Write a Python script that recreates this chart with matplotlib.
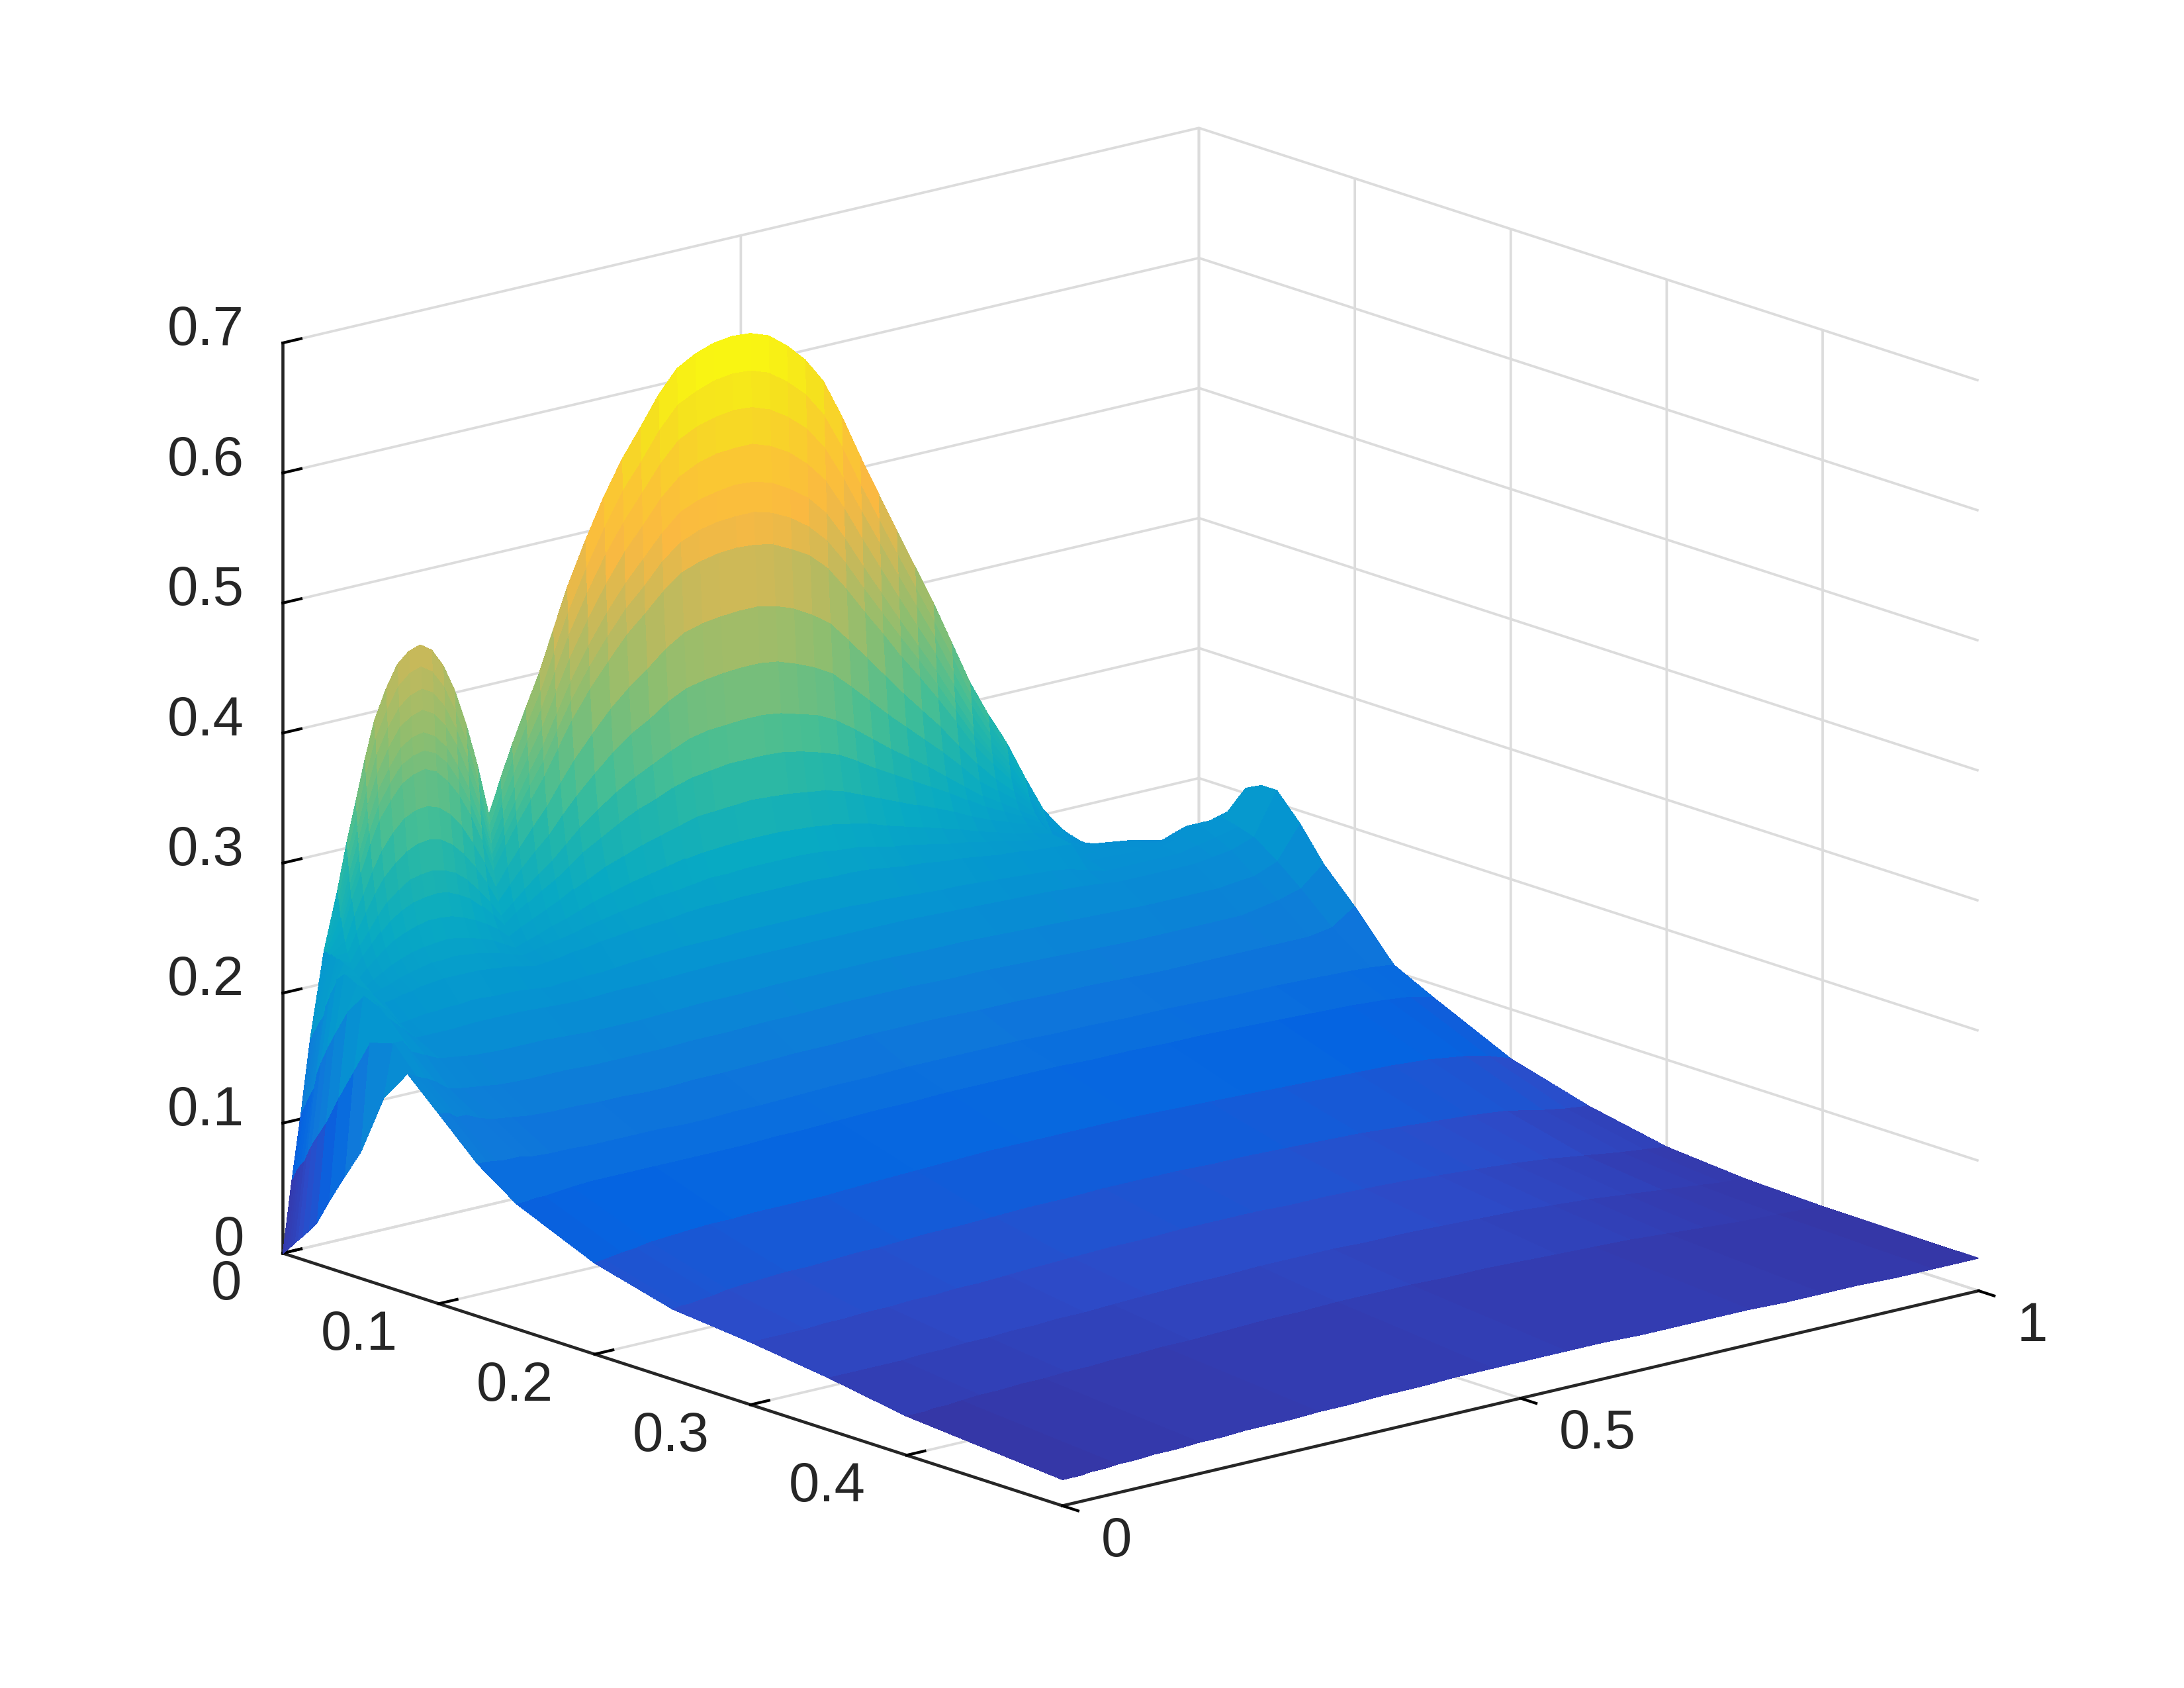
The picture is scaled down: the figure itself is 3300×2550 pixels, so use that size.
import matplotlib
matplotlib.use("Agg")
import matplotlib.pyplot as plt
import numpy as np
from matplotlib.colors import LinearSegmentedColormap
from mpl_toolkits.mplot3d import proj3d

plt.rcParams["font.family"] = ["Liberation Sans", "DejaVu Sans"]

# steep part of the surface next to x = 0, read finely along y
x_wall = [0, .0005, .001, .0015, .002, .0025, .003, .0045, .006, .008, .01, .013, .017, .022, .03, .04, .05]
y_wall = [0, .01, .02, .03, .045, .06, .07, .08, .09, .10, .1125, .125, .1375, .15, .1625, .175, .1875, .20, .2125, .225,
          .2375, .25, .265, .28, .295, .31, .33, .35, .37, .39, .41, .43, .45, .47, .49, .51, .53, .55, .57, .59,
          .61, .63, .65, .67, .69, .71, .73, .75, .77, .79, .81, .83, .85, .87, .89, .91, .93, .95, .975, 1]

w_x0000 = [0, .055, .105, .16, .225, .27, .305, .335, .366, .393, .415, .432, .44, .443, .437, .423, .402, .374, .34, .30, .325, .349, .375, .40, .43, .46, .493, .523, .549, .57, .592, .609, .617, .622, .624, .623, .618, .607, .593, .573, .543, .509, .477, .445, .414, .383, .349, .315, .287, .262, .232, .204, .186, .172, .163, .157, .14, .12, .08, 0]
w_x0005 = [0, .056, .106, .161, .225, .265, .298, .326, .355, .38, .40, .416, .424, .427, .421, .408, .388, .362, .33, .293, .316, .339, .363, .386, .414, .442, .473, .501, .526, .545, .566, .582, .589, .594, .596, .595, .59, .58, .567, .548, .52, .488, .458, .428, .399, .37, .339, .307, .281, .257, .229, .202, .185, .172, .164, .158, .142, .122, .085, .005]
w_x0010 = [.001, .058, .108, .163, .225, .26, .29, .316, .343, .367, .386, .40, .407, .41, .405, .393, .374, .35, .321, .286, .308, .328, .351, .373, .399, .425, .454, .48, .502, .521, .54, .555, .562, .566, .568, .567, .562, .553, .541, .523, .497, .468, .44, .412, .385, .358, .328, .299, .274, .253, .227, .20, .185, .173, .165, .16, .145, .125, .09, .01]
w_x0015 = [.002, .06, .109, .165, .225, .254, .283, .307, .332, .353, .371, .385, .391, .394, .389, .378, .361, .338, .311, .279, .299, .318, .339, .359, .383, .407, .434, .458, .479, .496, .514, .527, .534, .538, .539, .539, .534, .526, .514, .498, .474, .447, .421, .395, .37, .345, .318, .291, .268, .248, .224, .198, .184, .173, .165, .16, .148, .128, .095, .015]
w_x0020 = [.003, .061, .111, .166, .225, .249, .275, .297, .32, .34, .356, .369, .375, .377, .372, .362, .346, .326, .301, .271, .29, .307, .327, .345, .367, .389, .414, .436, .455, .471, .487, .50, .506, .509, .511, .51, .506, .498, .488, .473, .451, .426, .402, .378, .355, .332, .307, .282, .261, .243, .221, .196, .183, .173, .166, .162, .149, .13, .10, .02]
w_x0025 = [.003, .063, .112, .167, .225, .245, .269, .289, .311, .329, .344, .356, .361, .363, .359, .35, .335, .316, .293, .266, .283, .299, .317, .334, .355, .375, .398, .418, .436, .45, .466, .477, .483, .486, .487, .487, .483, .476, .466, .452, .432, .409, .387, .365, .344, .322, .299, .276, .257, .239, .219, .195, .183, .173, .166, .163, .151, .132, .105, .025]
w_x0030 = [.004, .064, .114, .168, .224, .24, .262, .281, .301, .318, .331, .342, .347, .349, .345, .336, .323, .306, .284, .259, .275, .29, .306, .322, .341, .36, .381, .399, .416, .429, .443, .454, .459, .462, .463, .462, .459, .452, .444, .431, .412, .391, .371, .35, .331, .311, .29, .268, .251, .235, .216, .194, .182, .173, .168, .164, .153, .135, .11, .03]
w_x0045 = [.006, .067, .118, .172, .224, .231, .25, .265, .281, .295, .307, .316, .32, .321, .318, .311, .30, .285, .268, .247, .26, .272, .286, .299, .315, .33, .347, .363, .376, .387, .399, .408, .412, .414, .415, .415, .412, .407, .399, .389, .373, .356, .339, .322, .306, .29, .272, .255, .24, .227, .212, .19, .181, .173, .169, .166, .157, .14, .12, .045]
w_x0060 = [.008, .07, .122, .176, .223, .223, .238, .251, .264, .275, .284, .291, .295, .296, .294, .288, .279, .267, .253, .236, .247, .257, .268, .278, .291, .303, .317, .33, .341, .349, .359, .366, .369, .371, .372, .372, .37, .365, .359, .351, .338, .324, .31, .297, .284, .271, .257, .242, .231, .22, .207, .186, .178, .172, .168, .166, .159, .145, .13, .06]
w_x0080 = [.011, .073, .127, .18, .222, .216, .228, .238, .248, .257, .264, .27, .272, .273, .271, .267, .26, .25, .239, .226, .234, .242, .251, .259, .269, .279, .29, .30, .308, .315, .322, .328, .331, .332, .333, .333, .331, .327, .323, .316, .306, .295, .284, .274, .264, .253, .242, .231, .222, .213, .204, .184, .178, .174, .171, .169, .163, .15, .14, .08]
w_x0100 = [.014, .08, .14, .19, .222, .211, .22, .228, .236, .243, .249, .253, .255, .256, .255, .251, .246, .238, .229, .219, .226, .232, .239, .245, .253, .261, .269, .277, .284, .289, .295, .299, .301, .303, .303, .303, .302, .299, .295, .29, .282, .273, .265, .257, .249, .241, .232, .223, .216, .209, .201, .183, .178, .175, .173, .171, .166, .155, .15, .10]
w_x0130 = [.018, .088, .15, .20, .22, .205, .212, .218, .224, .229, .233, .236, .238, .238, .237, .234, .23, .225, .219, .211, .216, .22, .225, .23, .236, .241, .248, .253, .258, .262, .266, .27, .271, .272, .273, .272, .271, .269, .267, .263, .257, .251, .245, .239, .233, .227, .22, .214, .209, .204, .198, .181, .177, .175, .173, .172, .169, .165, .165, .13]
w_x0170 = [.024, .097, .162, .212, .218, .20, .205, .209, .213, .216, .219, .221, .222, .223, .222, .22, .217, .214, .209, .204, .207, .21, .214, .217, .221, .225, .229, .233, .236, .239, .242, .244, .245, .246, .246, .246, .245, .244, .242, .239, .236, .231, .227, .223, .219, .215, .21, .206, .202, .199, .195, .179, .176, .174, .173, .172, .17, .175, .175, .165]
w_x0220 = [.032, .108, .175, .218, .213, .197, .20, .202, .205, .207, .209, .211, .211, .212, .211, .21, .208, .206, .203, .20, .202, .204, .206, .208, .211, .213, .216, .218, .221, .222, .224, .226, .226, .227, .227, .227, .227, .226, .224, .223, .22, .217, .215, .212, .209, .207, .204, .201, .198, .196, .194, .177, .176, .175, .174, .173, .172, .18, .18, .185]
w_x0300 = [.052, .13, .195, .213, .205, .194, .195, .197, .198, .20, .201, .202, .202, .202, .202, .201, .20, .199, .197, .195, .196, .197, .199, .20, .202, .203, .205, .206, .207, .209, .21, .21, .211, .211, .211, .211, .211, .21, .21, .209, .207, .205, .204, .202, .201, .199, .197, .196, .194, .193, .192, .176, .176, .175, .175, .174, .178, .184, .185, .204]
w_x0400 = [.075, .155, .21, .205, .195, .182, .183, .184, .185, .185, .186, .186, .187, .187, .186, .186, .186, .185, .184, .183, .184, .184, .185, .185, .186, .187, .188, .189, .19, .19, .19, .191, .191, .191, .191, .191, .191, .191, .19, .19, .189, .188, .187, .187, .186, .185, .184, .183, .182, .18, .176, .172, .172, .172, .172, .172, .175, .178, .182, .21]
w_x0500 = [.097, .18, .205, .195, .185, .175, .175, .175, .175, .175, .176, .176, .176, .176, .176, .176, .175, .175, .175, .174, .174, .174, .175, .175, .175, .175, .176, .176, .176, .177, .177, .177, .177, .177, .177, .177, .177, .177, .177, .177, .176, .176, .176, .175, .175, .174, .173, .173, .172, .171, .17, .168, .168, .168, .168, .168, .17, .172, .178, .21]

# flatter part towards x = 0.5
x_tail = [.05, .065, .08, .1, .125, .15, .2, .25, .3, .35, .4, .5]
y_tail = [0, .01, .02, .03, .045, .06, .08, .10, .125, .15, .175, .20, .225, .25, .28, .31, .35,
          .39, .43, .47, .51, .55, .59, .63, .67, .71, .75, .79, .83, .87, .91, .95, .975, 1]

z_x0500 = [.097, .18, .205, .195, .185, .175, .175, .175, .176, .176, .176, .175, .174, .174, .175, .175, .176, .177, .177, .177, .177, .177, .177, .176, .175, .174, .173, .171, .168, .168, .168, .172, .178, .21]
z_x0650 = [.145, .185, .185, .175, .17, .165, .163, .161, .160, .160, .160, .159, .158, .158, .158, .159, .160, .160, .161, .161, .161, .161, .160, .160, .159, .158, .157, .156, .155, .155, .155, .158, .165, .19]
z_x0800 = [.169, .165, .162, .158, .15, .148, .146, .144, .143, .143, .143, .142, .142, .142, .142, .143, .143, .144, .144, .145, .145, .145, .144, .144, .143, .142, .141, .14, .14, .14, .14, .145, .15, .165]
z_x1000 = [.146, .145, .14, .14, .135, .132, .13, .128, .127, .127, .126, .126, .125, .125, .126, .126, .127, .128, .128, .129, .129, .129, .128, .128, .127, .127, .126, .125, .125, .125, .125, .125, .128, .14]
z_x1250 = [.117, .117, .116, .115, .115, .113, .112, .112, .111, .111, .111, .111, .11, .11, .111, .111, .112, .113, .113, .114, .114, .114, .114, .113, .113, .112, .112, .111, .11, .11, .109, .108, .107, .105]
z_x1500 = [.096, .096, .097, .097, .098, .099, .1, .1, .1, .1, .1, .1, .1, .1, .101, .101, .102, .103, .103, .104, .104, .104, .104, .103, .103, .102, .102, .101, .1, .099, .098, .096, .094, .09]
z_x2000 = [.07, .071, .072, .073, .074, .076, .077, .078, .079, .079, .08, .08, .08, .08, .081, .082, .083, .084, .085, .085, .085, .085, .085, .084, .083, .082, .081, .08, .079, .078, .076, .072, .068, .062]
z_x2500 = [.054, .055, .055, .056, .057, .059, .06, .061, .062, .062, .063, .064, .064, .065, .066, .066, .067, .068, .068, .069, .069, .069, .068, .068, .067, .066, .065, .063, .061, .059, .056, .05, .047, .045]
z_x3000 = [.048, .048, .048, .048, .048, .048, .049, .049, .05, .05, .051, .051, .052, .052, .053, .054, .055, .056, .056, .057, .057, .057, .056, .056, .055, .054, .052, .05, .048, .045, .041, .037, .035, .033]
z_x3500 = [.04, .04, .04, .04, .04, .04, .04, .041, .041, .042, .042, .043, .043, .044, .044, .045, .046, .047, .047, .048, .048, .048, .047, .047, .046, .045, .044, .042, .04, .037, .034, .031, .029, .028]
z_x4000 = [.03, .03, .03, .031, .031, .032, .033, .033, .034, .034, .035, .035, .036, .036, .037, .037, .038, .039, .039, .04, .04, .04, .039, .039, .038, .037, .036, .035, .033, .031, .029, .028, .027, .026]
z_x5000 = [.02, .02, .02, .021, .021, .022, .022, .023, .023, .024, .024, .025, .025, .025, .026, .026, .027, .027, .028, .028, .028, .028, .028, .027, .027, .027, .027, .026, .026, .026, .025, .025, .025, .025]

x_ticks = [0, .1, .2, .3, .4]
x_labels = ["0", "0.1", "0.2", "0.3", "0.4"]
y_ticks = [0, .5, 1]
y_labels = ["0", "0.5", "1"]
z_ticks = [0, .1, .2, .3, .4, .5, .6, .7]
z_labels = ["0", "0.1", "0.2", "0.3", "0.4", "0.5", "0.6", "0.7"]

cmap_pos = [0, .03, .08, .14, .2, .3, .38, .45, .5, .6, .7, .78, .85, .92, 1]
cmap_rgb = [(52, 38, 130), (55, 50, 160), (45, 75, 200), (5, 100, 225), (15, 120, 218),
            (5, 150, 208), (8, 170, 195), (35, 182, 170), (70, 190, 148), (140, 190, 112),
            (200, 185, 90), (250, 185, 65), (250, 200, 50), (245, 225, 30), (250, 250, 15)]
colors = [(p, tuple(c / 255 for c in rgb)) for p, rgb in zip(cmap_pos, cmap_rgb)]
parula = LinearSegmentedColormap.from_list("parula_like", colors, N=256)

Z_wall = np.array([w_x0000, w_x0005, w_x0010, w_x0015, w_x0020, w_x0025, w_x0030, w_x0045, w_x0060,
                   w_x0080, w_x0100, w_x0130, w_x0170, w_x0220, w_x0300, w_x0400, w_x0500])
Z_tail = np.array([z_x0500, z_x0650, z_x0800, z_x1000, z_x1250, z_x1500, z_x2000, z_x2500, z_x3000,
                   z_x3500, z_x4000, z_x5000])
X_wall, Y_wall = np.meshgrid(x_wall, y_wall, indexing="ij")
X_tail, Y_tail = np.meshgrid(x_tail, y_tail, indexing="ij")

fig = plt.figure(figsize=(11, 8.5), dpi=300)
ax = fig.add_axes([.0042, -.1484, 1, 1.294], projection="3d")
ax.set_proj_type("ortho")
ax.view_init(elev=16, azim=-40.4)
ax.set_box_aspect((1, 1, .787), zoom=.8655)

ax.plot_surface(X_wall, Y_wall, Z_wall, cmap=parula, vmin=0, vmax=.62, rstride=1, cstride=1,
                linewidth=0, antialiased=False, shade=False)
ax.plot_surface(X_tail, Y_tail, Z_tail, cmap=parula, vmin=0, vmax=.62, rstride=1, cstride=1,
                linewidth=0, antialiased=False, shade=False)

ax.set_xlim(0, .5)
ax.set_ylim(0, 1)
ax.set_zlim(0, .7)
ax.set_xticks(x_ticks, [""] * len(x_ticks))
ax.set_yticks(y_ticks, [""] * len(y_ticks))
ax.set_zticks(z_ticks, [""] * len(z_ticks))
ax.zaxis.set_ticks_position("lower")

for axis in (ax.xaxis, ax.yaxis, ax.zaxis):
    axis.set_pane_color((1, 1, 1, 0))
    axis.pane.set_edgecolor((1, 1, 1, 0))
    axis.line.set_color("#262626")
    axis.line.set_linewidth(1.1)
    axis._axinfo["grid"].update(color="#dcdcdc", linewidth=.9)
    axis._axinfo["tick"].update(inward_factor=0, outward_factor=.25, linewidth={True: 1.0, False: 1.0}, color="#262626")
# y ticks point the other way, out of the box towards the viewer
ax.yaxis._axinfo["tick"].update(inward_factor=.25, outward_factor=0)


def tick_label(text, x, y, z, dx, dy, ha):
    # tick labels placed from the projected tick position, offsets in points
    px, py, _ = proj3d.proj_transform(x, y, z, ax.get_proj())
    ax.annotate(text, xy=(px, py), xytext=(dx, dy), textcoords="offset points",
                ha=ha, va="center", fontsize=20, color="#262626", annotation_clip=False)


for t, lab in zip(x_ticks, x_labels):
    tick_label(lab, t, 0, 0, -15, -11.5, "right")
for t, lab in zip(y_ticks, y_labels):
    tick_label(lab, .5, t, 0, 14, -13, "left")
for t, lab in zip(z_ticks, z_labels):
    tick_label(lab, 0, 0, t, -14, 4.5, "right")

fig.savefig("out.png", dpi=300)
